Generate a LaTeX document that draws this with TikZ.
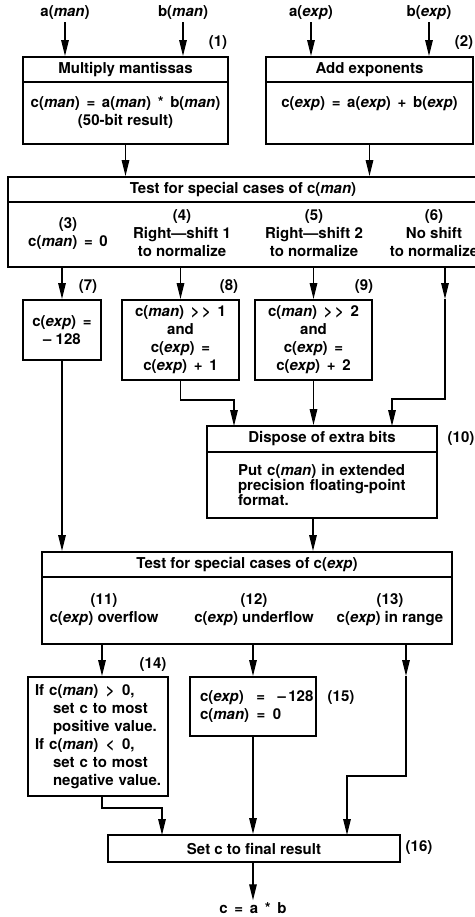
\documentclass[tikz,border=0pt]{standalone}
\usepackage{fontspec}
\setmainfont{TeX Gyre Heros}
\usetikzlibrary{arrows.meta}
\newcommand{\imn}{\textit{man}}
\newcommand{\iexp}{\textit{exp}}
\tikzset{
  box/.style={draw, line width=1.8pt, inner sep=0pt, align=center},
  txt/.style={inner sep=0pt, align=center},
  lbl/.style={inner sep=2pt},
  arr/.style={line width=1.4pt, -{Triangle[length=16pt,width=7.5pt]}},
}
\begin{document}
\begin{tikzpicture}[x=1pt,y=-1pt,font=\fontsize{15}{18}\selectfont\bfseries]
\useasboundingbox (0,0) rectangle (474,917);
% inputs
\node[lbl] (am) at (65,13) {a(\imn)};
\node[lbl] (bm) at (183,13) {b(\imn)};
\node[lbl] (ae) at (311,13) {a(\iexp)};
\node[lbl] (be) at (429,13) {b(\iexp)};
% box 1
\node[box, minimum width=205, minimum height=25] (m1t) at (125.5,69.5) {Multiply mantissas};
\node[box, minimum width=205, minimum height=62] (m1b) at (125.5,113) {c(\imn)\,\ =\,\ a(\imn)\,\ *\,\ b(\imn)\\(50-bit result)};
\node[lbl] (n1) at (218,43) {(1)};
% box 2
\node[box, minimum width=207, minimum height=25] (a2t) at (369.5,69.5) {Add exponents};
\node[box, minimum width=207, minimum height=62] (a2b) at (369.5,113) {c(\iexp)\,\ =\,\ a(\iexp)\,\ +\,\ b(\iexp)\\[4pt]};
\node[lbl] (n2) at (464,43) {(2)};
% test 1
\node[box, minimum width=470, minimum height=25] (t1t) at (243,189.5) {Test for special cases of c(\imn)};
\node[box, minimum width=470, minimum height=65] (t1b) at (243,234.5) {};
\node[txt] (c3) at (68,234) {(3)\\c(\imn)\,\ =\,\ 0};
\node[txt] (c4) at (182,233) {(4)\\Right—shift 1\\to normalize};
\node[txt] (c5) at (314,233) {(5)\\Right—shift 2\\to normalize};
\node[txt] (c6) at (434,233) {(6)\\No shift\\to normalize};
% boxes 7 8 9
\node[box, minimum width=78, minimum height=60] (b7) at (62,330) {c(\iexp)\,\ =\\– 128};
\node[box, minimum width=117, minimum height=80] (b8) at (180.5,340) {c(\imn)\,\ >\,>\,\ 1\\and\\c(\iexp)\,\ =\\c(\iexp)\,\ +\,\ 1};
\node[box, minimum width=117, minimum height=80] (b9) at (313.5,340) {c(\imn)\,\ >\,>\,\ 2\\and\\c(\iexp)\,\ =\\c(\iexp)\,\ +\,\ 2};
\node[lbl] (n7) at (88,287) {(7)};
\node[lbl] (n8) at (229,287) {(8)};
\node[lbl] (n9) at (364,287) {(9)};
% dispose
\node[box, minimum width=230, minimum height=26] (dt) at (322,439) {Dispose of extra bits};
\node[box, minimum width=230, minimum height=66, text width=168, inner xsep=31, align=left, font=\fontsize{15}{15}\selectfont\bfseries] (db) at (322,485) {Put c(\imn) in extended\\precision floating-point\\format.};
\node[lbl] (n10) at (461,439) {(10)};
% test 2
\node[box, minimum width=410, minimum height=25] (t2t) at (247,564.5) {Test for special cases of c(\iexp)};
\node[box, minimum width=410, minimum height=67] (t2b) at (247,610.5) {};
\node[txt] (c11) at (104,610) {(11)\\c(\iexp) overflow};
\node[txt] (c12) at (254,610) {(12)\\c(\iexp) underflow};
\node[txt] (c13) at (390,610) {(13)\\c(\iexp) in range};
% boxes 14 15
\node[box, minimum width=140, minimum height=119, text width=126, inner xsep=7, align=left] (b14) at (98,736.5) {\mbox{If c(\imn)\,\ >\,\ 0,}\\\mbox{\hspace*{18pt}set c to most}\\\mbox{\hspace*{18pt}positive value.}\\\mbox{If c(\imn)\,\ <\,\ 0,}\\\mbox{\hspace*{18pt}set c to most}\\\mbox{\hspace*{18pt}negative value.}};
\node[box, minimum width=126, minimum height=59, text width=114, inner xsep=6, xshift=0pt, align=left] (b15) at (253,706.5) {\hspace*{4pt}\mbox{c(\iexp)\,\ \ =\,\ \ –\,128}\\\hspace*{4pt}\mbox{c(\imn)\,\ =\,\ 0}};
\node[lbl] (n14) at (153,665) {(14)};
\node[lbl] (n15) at (341,698) {(15)};
% set
\node[box, minimum width=292, minimum height=27] (st) at (254,848.5) {Set c to final result};
\node[lbl] (n16) at (419,848) {(16)};
\node[lbl] (res) at (253,908) {c\,\ =\,\ a\,\ *\,\ b};
% coordinates
\coordinate (k8) at (0,400);
\coordinate (in8) at (234,426);
\coordinate (k6) at (445,399);
\coordinate (in6) at (392,426);
\coordinate (xd) at (313,0);
\coordinate (x14) at (102,0);
\coordinate (k14) at (102,808);
\coordinate (in14) at (162,835);
\coordinate (x13) at (406,0);
\coordinate (k13) at (406,776);
\coordinate (in13) at (347,835);
% connectors
\draw[arr] (am.south) -- (am.south |- m1t.north);
\draw[arr] (bm.south) -- (bm.south |- m1t.north);
\draw[arr] (ae.south) -- (ae.south |- a2t.north);
\draw[arr] (be.south) -- (be.south |- a2t.north);
\draw[arr] (m1b.south) -- (m1b.south |- t1t.north);
\draw[arr] (a2b.south) -- (a2b.south |- t1t.north);
\draw[arr] (b7.north |- t1b.south) -- (b7.north);
\draw[arr] (b8.north |- t1b.south) -- (b8.north);
\draw[arr] (b9.north |- t1b.south) -- (b9.north);
\draw[arr] (k6 |- t1b.south) -- (k6 |- b9.north);
\draw[arr] (k6 |- b9.north) -- (k6) -| (in6);
\draw[arr] (b8.south) -- (b8.south |- k8) -| (in8);
\draw[arr] (b9.south) -- (b9.south |- dt.north);
\draw[arr] (b7.south) -- (b7.south |- t2t.north);
\draw[arr] (xd |- db.south) -- (xd |- t2t.north);
\draw[arr] (x14 |- t2b.south) -- (x14 |- b14.north);
\draw[arr] (b15.north |- t2b.south) -- (b15.north);
\draw[arr] (x13 |- t2b.south) -- (x13 |- b14.north);
\draw[arr] (x13 |- b14.north) -- (k13) -| (in13);
\draw[arr] (k14 |- b14.south) -- (k14) -| (in14);
\draw[arr] (b15.south) -- (b15.south |- st.north);
\draw[arr] (res.north |- st.south) -- (res.north);
\end{tikzpicture}
\end{document}
